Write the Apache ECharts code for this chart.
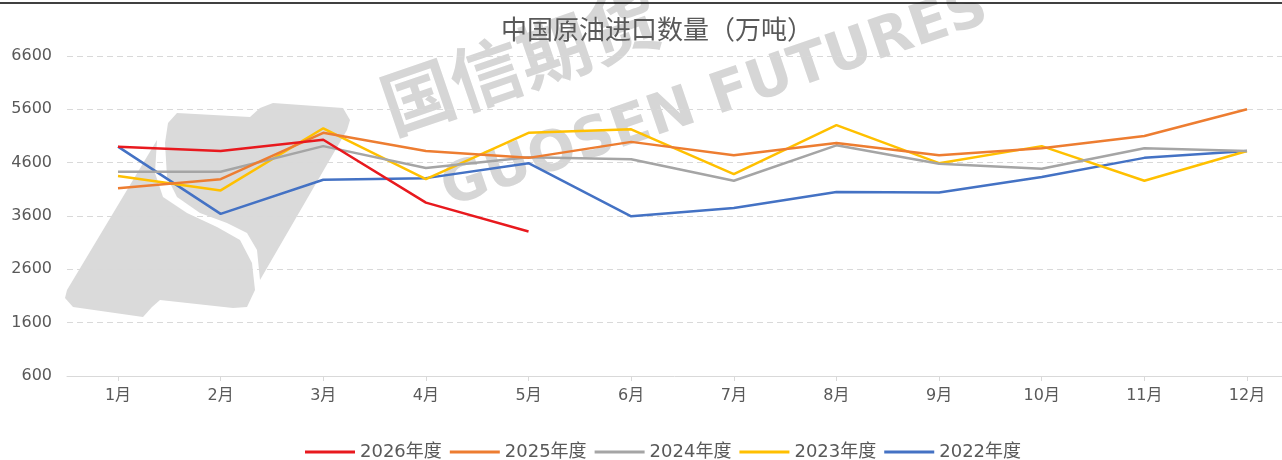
<!DOCTYPE html>
<html><head><meta charset="utf-8">
<script src="https://cdn.jsdelivr.net/npm/echarts@6/dist/echarts.min.js"></script>
<style>html,body{margin:0;padding:0;background:#fff}#c{width:1282px;height:460px}</style>
</head><body><div id="c"></div>
<script>
const months = ['1月','2月','3月','4月','5月','6月','7月','8月','9月','10月','11月','12月'];
const y2026 = [4900, 4820, 5030, 3850, 3310];
const y2025 = [4120, 4290, 5160, 4820, 4690, 4990, 4740, 4970, 4740, 4870, 5100, 5600];
const y2024 = [4430, 4430, 4910, 4500, 4700, 4665, 4260, 4925, 4580, 4485, 4870, 4820];
const y2023 = [4350, 4080, 5245, 4290, 5160, 5225, 4385, 5305, 4590, 4910, 4260, 4820];
const y2022 = [4900, 3640, 4280, 4310, 4590, 3595, 3750, 4050, 4040, 4330, 4690, 4820];
const seriesNames = ['2026年度','2025年度','2024年度','2023年度','2022年度'];
const colors = ['#E8191E','#ED7D31','#A5A5A5','#FFC000','#4472C4'];
const allData = [y2026, y2025, y2024, y2023, y2022];

const chart = echarts.init(document.getElementById('c'));
const font = "'DejaVu Sans', 'Noto Sans CJK SC', sans-serif";
const wm = '#DADADA';
chart.setOption({
  animation: false,
  backgroundColor: '#fff',
  color: colors,
  title: {
    text: '中国原油进口数量（万吨）',
    left: 652, top: 11, textAlign: 'center',
    textStyle: { color: '#595959', fontSize: 26, fontWeight: 'normal', fontFamily: "'Noto Sans CJK SC', sans-serif" }
  },
  graphic: [
    { type: 'line', z: 10, shape: { x1: 0, y1: 3, x2: 1282, y2: 3 }, style: { stroke: '#000', lineWidth: 1.5 } },
    { type: 'polygon', z: -10, shape: { points: [[177,113],[250,117],[260,108],[273,103],[343,108],[350,120],[347,130],[260,280],[257,250],[247,233],[227,223],[200,213],[177,197],[167,177],[165,143],[168,123]] }, style: { fill: wm } },
    { type: 'polygon', z: -10, shape: { points: [[157,140],[155,173],[163,197],[187,213],[217,227],[240,240],[252,263],[255,290],[247,307],[233,308],[160,300],[152,307],[143,317],[73,307],[65,298],[67,290]] }, style: { fill: wm } },
    { type: 'text', z: -10, x: 520, y: 62, rotation: 0.33, style: { text: '国信期货', fill: '#D6D6D6', font: 'bold 72px "Noto Sans CJK SC"', textAlign: 'center', textVerticalAlign: 'middle' } },
    { type: 'text', z: -10, x: 715, y: 100, rotation: 0.33, style: { text: 'GUOSEN FUTURES', fill: '#D6D6D6', font: 'bold 56px "DejaVu Sans"', textAlign: 'center', textVerticalAlign: 'middle' } }
  ],
  legend: {
    top: 438, left: 300,
    itemWidth: 50, itemHeight: 3, itemGap: 8,
    icon: 'rect',
    textStyle: { color: '#595959', fontSize: 18, fontFamily: font },
    data: seriesNames
  },
  grid: [
    { left: 67, right: 0, top: 56, bottom: 84 },
    { left: 118, right: 35, top: 56, bottom: 84 }
  ],
  xAxis: [
    { gridIndex: 0, type: 'value', min: 0, max: 1, position: 'bottom',
      axisLine: { show: true, onZero: false, lineStyle: { color: '#D9D9D9' } },
      axisTick: { show: false }, axisLabel: { show: false }, splitLine: { show: false } },
    { gridIndex: 1, type: 'category', data: months, boundaryGap: false,
      axisLine: { show: false },
      axisTick: { show: true, length: 5, lineStyle: { color: '#D9D9D9' } },
      axisLabel: { color: '#595959', fontSize: 16, margin: 12, fontFamily: font } }
  ],
  yAxis: [
    { gridIndex: 0, type: 'value', min: 600, max: 6600, interval: 1000,
      axisLine: { show: false }, axisTick: { show: false },
      axisLabel: { color: '#595959', fontSize: 16, margin: 15, fontFamily: font, formatter: v => String(v) },
      splitLine: { lineStyle: { color: '#D9D9D9', type: [6, 4] } } },
    { gridIndex: 1, type: 'value', min: 600, max: 6600, interval: 1000,
      axisLine: { show: false }, axisTick: { show: false }, axisLabel: { show: false }, splitLine: { show: false } }
  ],
  series: allData.map((d, i) => ({
    name: seriesNames[i], type: 'line', data: d, xAxisIndex: 1, yAxisIndex: 1,
    symbol: 'none', lineStyle: { width: 2.5, color: colors[i] }, itemStyle: { color: colors[i] },
    z: 10 - i
  }))
});
</script></body></html>
